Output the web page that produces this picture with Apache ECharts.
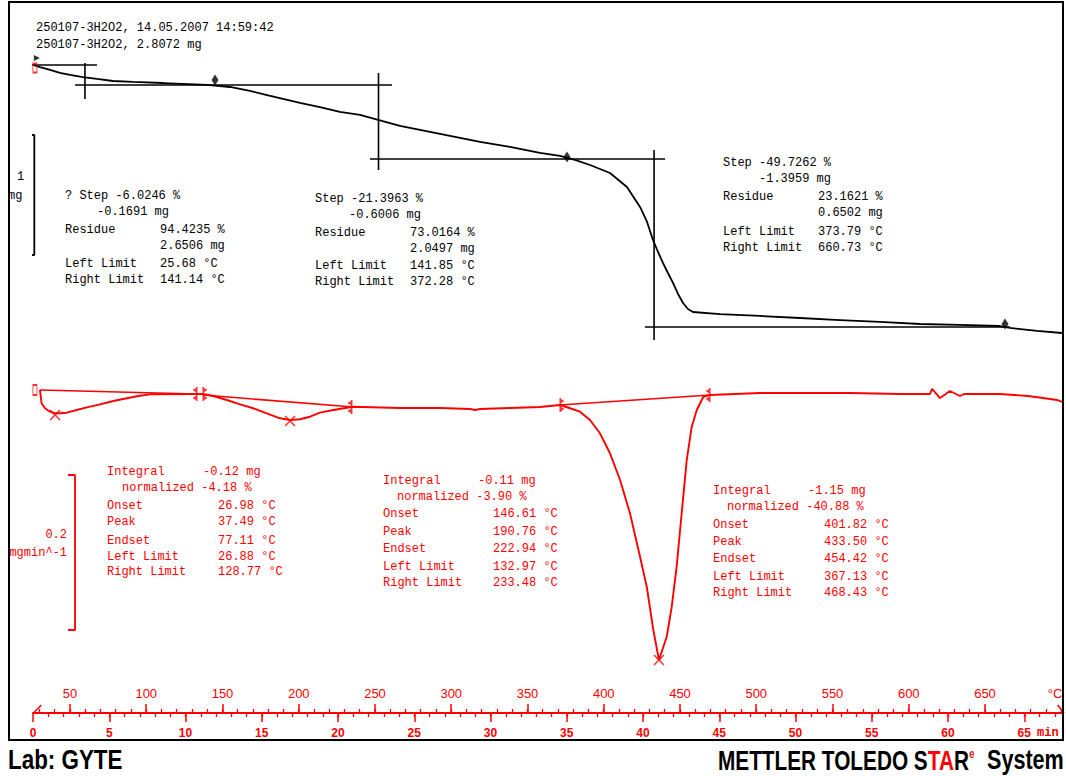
<!DOCTYPE html>
<html><head><meta charset="utf-8">
<script src="https://cdn.jsdelivr.net/npm/echarts@6/dist/echarts.min.js"></script>
<style>html,body{margin:0;padding:0;background:#fff;}#c{width:1066px;height:776px;}</style>
</head><body><div id="c"></div>
<script>
// ================= DATA =================
// TGA curve: temperature (°C) vs mass (mg)
const tgaTemp = [26.4,30.3,36.9,43.4,50.0,58.5,67.7,78.2,91.3,111.0,139.8,154.9,168.0,179.2,189.7,200.8,213.9,227.0,240.2,252.0,266.4,279.5,299.2,318.9,338.5,358.2,371.3,381.1,391.0,404.1,415.2,423.8,428.4,432.3,435.6,438.9,442.1,445.4,448.7,452.0,455.2,458.5,476.2,502.5,528.7,554.9,581.1,607.4,633.6,659.8,666.4,684.1,700.5];
const tgaMass = [2.807,2.790,2.766,2.741,2.724,2.707,2.691,2.674,2.666,2.657,2.641,2.624,2.591,2.557,2.524,2.491,2.457,2.416,2.391,2.349,2.299,2.266,2.216,2.166,2.124,2.074,2.049,2.016,1.974,1.907,1.791,1.624,1.499,1.349,1.249,1.157,1.074,0.991,0.899,0.824,0.774,0.749,0.732,0.716,0.699,0.682,0.666,0.649,0.641,0.632,0.616,0.591,0.574];
// DTG curve: temperature (°C) vs rate (mg/min)
const dtgTemp = [30.3,31.4,33.6,36.9,40.2,43.4,47.8,54.4,61.0,69.7,78.4,87.2,94.8,102.5,133.1,137.4,144.0,152.8,161.5,170.2,179.0,187.7,194.3,200.8,207.4,213.9,222.7,231.4,235.8,266.4,292.6,312.3,315.6,318.9,338.5,358.2,371.3,377.9,384.4,391.0,397.5,404.1,410.7,417.2,423.8,428.2,432.5,436.2,441.3,444.6,447.8,451.1,454.4,457.7,461.0,465.3,469.7,502.5,561.5,594.3,613.9,615.3,620.5,627.0,633.6,636.2,659.8,678.2,688.0,697.2,700.5];
const dtgRate = [0.0039,-0.0133,-0.0197,-0.0241,-0.0262,-0.0262,-0.0254,-0.0219,-0.0185,-0.0146,-0.0103,-0.0068,-0.0039,-0.0017,-0.0013,-0.0013,-0.0039,-0.0090,-0.0146,-0.0197,-0.0262,-0.0326,-0.0348,-0.0339,-0.0306,-0.0254,-0.0219,-0.0190,-0.0177,-0.0194,-0.0194,-0.0206,-0.0219,-0.0206,-0.0194,-0.0181,-0.0155,-0.0197,-0.0241,-0.0348,-0.0520,-0.0778,-0.1123,-0.1552,-0.2112,-0.2499,-0.3058,-0.3445,-0.3145,-0.2757,-0.2241,-0.1552,-0.0865,-0.0435,-0.0219,-0.0048,-0.0026,0.0000,0.0000,-0.0013,-0.0013,0.0052,-0.0065,0.0026,-0.0039,-0.0013,-0.0013,-0.0039,-0.0065,-0.0090,-0.0116];
// TGA step evaluation lines (tangents and limits) [temp, mass]
const tgaEvalLines = [
  [[21.8,2.807],[67.7,2.807]],
  [[59.8,2.824],[59.8,2.524]],
  [[53.3,2.641],[261.1,2.641]],
  [[252.3,2.741],[252.3,1.932]],
  [[246.7,2.024],[440.2,2.024]],
  [[433.0,2.099],[433.0,0.516]],
  [[427.0,0.624],[666.4,0.624]]
];
// TGA limit markers
const tgaMarkTemp = [145.1,375.9,663.1];
const tgaMarkMass = [2.682,2.040,0.649];
// DTG integration baselines [temp, rate]
const dtgBaselines = [
  [[30.3,0.0039],[133.1,-0.0013]],
  [[137.4,-0.0026],[235.8,-0.0181]],
  [[371.3,-0.0155],[469.7,-0.0026]]
];
// DTG peaks (×)
const dtgPeakTemp = [40.2,194.3,436.2];
const dtgPeakRate = [-0.0284,-0.0361,-0.3445];
// DTG limit markers
const dtgLeftLimTemp = [137.2,371.3];
const dtgLeftLimRate = [-0.0013,-0.0155];
const dtgRightLimTemp = [133.3,234.9,469.7];
const dtgRightLimRate = [-0.0013,-0.0181,-0.0026];
// scale bars: 1 mg and 0.2 mg/min
const massBar = [[21.8,2.224],[26.6,2.224],[26.6,1.224],[21.8,1.224]];
const rateBar = [[48.7,-0.1058],[53.3,-0.1058],[53.3,-0.3058],[48.7,-0.3058]];
// axis ticks
const tempTicks = [50,100,150,200,250,300,350,400,450,500,550,600,650];
const timeTicks = [0,5,10,15,20,25,30,35,40,45,50,55,60,65];
const tempMinor = []; for (let t = 30; t <= 700; t += 10) tempMinor.push(t);
const timeMinor = []; for (let m = 1; m <= 67; m += 1) timeMinor.push(m);

// texts
const headerLines = [[36,28,'250107-3H2O2, 14.05.2007 14:59:42'],[36,45,'250107-3H2O2, 2.8072 mg']];
const blackBlocks = [
  [65,196,'? Step -6.0246 %'],[97,212,'-0.1691 mg'],[65,230,'Residue'],[160,230,'94.4235 %'],[160,246,'2.6506 mg'],[65,264,'Left Limit'],[160,264,'25.68 °C'],[65,280,'Right Limit'],[160,280,'141.14 °C'],
  [315,199,'Step -21.3963 %'],[349,215,'-0.6006 mg'],[315,233,'Residue'],[410,233,'73.0164 %'],[410,249,'2.0497 mg'],[315,266,'Left Limit'],[410,266,'141.85 °C'],[315,282,'Right Limit'],[410,282,'372.28 °C'],
  [723,163,'Step -49.7262 %'],[759,179,'-1.3959 mg'],[723,197,'Residue'],[818,197,'23.1621 %'],[818,213,'0.6502 mg'],[723,232,'Left Limit'],[818,232,'373.79 °C'],[723,248,'Right Limit'],[818,248,'660.73 °C'],
  [17,177,'1'],[8,196,'mg']
];
const redBlocks = [
  [107,472,'Integral'],[203,472,'-0.12 mg'],[122,488,'normalized -4.18 %'],[107,506,'Onset'],[218,506,'26.98 °C'],[107,522,'Peak'],[218,522,'37.49 °C'],[107,541,'Endset'],[218,541,'77.11 °C'],[107,557,'Left Limit'],[218,557,'26.88 °C'],[107,572,'Right Limit'],[218,572,'128.77 °C'],
  [383,481,'Integral'],[478,481,'-0.11 mg'],[397,497,'normalized -3.90 %'],[383,514,'Onset'],[493,514,'146.61 °C'],[383,532,'Peak'],[493,532,'190.76 °C'],[383,549,'Endset'],[493,549,'222.94 °C'],[383,567,'Left Limit'],[493,567,'132.97 °C'],[383,583,'Right Limit'],[493,583,'233.48 °C'],
  [713,491,'Integral'],[808,491,'-1.15 mg'],[727,507,'normalized -40.88 %'],[713,525,'Onset'],[824,525,'401.82 °C'],[713,542,'Peak'],[824,542,'433.50 °C'],[713,559,'Endset'],[824,559,'454.42 °C'],[713,577,'Left Limit'],[824,577,'367.13 °C'],[713,593,'Right Limit'],[824,593,'468.43 °C']
];
const redRightTexts = [[67,535,'0.2'],[67,553,'mgmin^-1']];

// ================= CHART =================
const RED = '#ff0000';
const MONO = '12px "Liberation Mono", "DejaVu Sans Mono", monospace';
const SANS = '"Liberation Sans", Arial, sans-serif';
const chart = echarts.init(document.getElementById('c'), null, {renderer: 'svg'});

function txt(x, y, s, color, font, align) {
  return {type: 'text', x: x, y: y, silent: true, z: 50,
    style: {text: s, fill: color, font: font || MONO, textAlign: align || 'left', align: align || 'left',
            textVerticalAlign: 'middle', verticalAlign: 'middle'}};
}
const graphics = [];
headerLines.forEach(r => graphics.push(txt(r[0], r[1], r[2], '#000')));
blackBlocks.forEach(r => graphics.push(txt(r[0], r[1], r[2], '#000')));
redBlocks.forEach(r => graphics.push(txt(r[0], r[1], r[2], RED)));
redRightTexts.forEach(r => graphics.push(txt(r[0], r[1], r[2], RED, MONO, 'right')));
graphics.push({type: 'text', x: 8, y: 760, scaleX: 0.83, silent: true,
  style: {text: 'Lab: GYTE', fill: '#000', font: 'bold 27px ' + SANS, textVerticalAlign: 'middle', verticalAlign: 'middle'}});
graphics.push({type: 'text', x: 718, y: 760, scaleX: 0.77, silent: true,
  style: {text: '{k|METTLER TOLEDO S}{r|TA}{k|R}{s|e}', textVerticalAlign: 'middle', verticalAlign: 'middle',
    rich: {k: {fill: '#000', font: 'bold 27px ' + SANS},
           r: {fill: RED, font: 'bold 27px ' + SANS},
           s: {fill: '#e03020', font: 'bold 13px ' + SANS, verticalAlign: 'top'}}}});
graphics.push({type: 'text', x: 987, y: 760, scaleX: 0.8, silent: true,
  style: {text: 'System', fill: '#000', font: 'bold 27px ' + SANS, textVerticalAlign: 'middle', verticalAlign: 'middle'}});
graphics.push({type: 'rect', z: 100, silent: true, shape: {x: 9, y: 2, width: 1054, height: 738},
  style: {fill: 'none', stroke: '#000', lineWidth: 2}});

const tMin = 25.74, tMax = 701.15, timeMax = 67.54;
const hidden = {show: false};
const xAxes = [
  {type: 'value', min: tMin, max: tMax, position: 'bottom', splitLine: hidden,
   axisLine: {show: true, onZero: false, lineStyle: {color: RED, width: 2}},
   axisTick: {show: true, inside: true, length: 9, customValues: tempTicks, lineStyle: {color: RED, width: 1.5}},
   axisLabel: {show: true, inside: true, margin: 13, customValues: tempTicks.concat([695.9]), color: RED,
     fontFamily: SANS, fontSize: 13,
     formatter: v => v > 690 ? '°C' : String(v)}},
  {type: 'value', min: tMin, max: tMax, position: 'bottom', splitLine: hidden,
   axisLine: {show: false, onZero: false},
   axisTick: {show: true, inside: true, length: 4, customValues: tempMinor, lineStyle: {color: RED, width: 1.3}},
   axisLabel: hidden},
  {type: 'value', min: 0, max: timeMax, position: 'bottom', splitLine: hidden,
   axisLine: {show: false, onZero: false},
   axisTick: {show: true, inside: false, length: 9, customValues: timeTicks, lineStyle: {color: RED, width: 1.5}},
   axisLabel: {show: true, margin: 14, customValues: timeTicks.concat([66.55]), color: RED,
     fontFamily: SANS, fontSize: 12, fontWeight: 'bold',
     formatter: v => v > 66 ? '{m|min}' : String(v),
     rich: {m: {fontFamily: '"Liberation Mono", monospace', fontSize: 12, fontWeight: 'bold', color: RED}}}},
  {type: 'value', min: 0, max: timeMax, position: 'bottom', splitLine: hidden,
   axisLine: {show: false, onZero: false},
   axisTick: {show: true, inside: false, length: 4, customValues: timeMinor, lineStyle: {color: RED, width: 1.3}},
   axisLabel: hidden}
];
const yAxes = [
  {type: 'value', min: -2.5928, max: 3.29887, show: false, splitLine: hidden},
  {type: 'value', min: -0.412903, max: 0.499355, show: false, splitLine: hidden}
];

const series = [];
const zip = (a, b) => a.map((v, i) => [v, b[i]]);
function lineS(data, yi, color, width, z) {
  return {type: 'line', xAxisIndex: 0, yAxisIndex: yi, data: data, symbol: 'none', showSymbol: false,
          clip: false, silent: true, z: z || 2, lineStyle: {color: color, width: width}};
}
series.push(lineS(zip(tgaTemp, tgaMass), 0, '#000', 1.8, 3));
tgaEvalLines.forEach(seg => series.push(lineS(seg, 0, '#000', 1.6)));
series.push(lineS(massBar, 0, '#000', 1.8));
series.push(lineS(zip(dtgTemp, dtgRate), 1, RED, 1.9, 3));
dtgBaselines.forEach(seg => series.push(lineS(seg, 1, RED, 1.6)));
series.push(lineS(rateBar, 1, RED, 1.8));
// axis end slashes
series.push(lineS([[26.0, -0.4129], [31.2, -0.4026]], 1, RED, 1.5));
series.push(lineS([[697.6, -0.4026], [701.8, -0.4129]], 1, RED, 1.5));

const X_SYM = 'path://M0,1 L1,0 L5,4 L9,0 L10,1 L6,5 L10,9 L9,10 L5,6 L1,10 L0,9 L4,5 Z';
const LEFT_SYM = 'path://M0,0 L1.5,0 L1.5,16 L0,16 Z M1.5,1 L5,3.5 L1.5,6 Z M1.5,10 L5,12.5 L1.5,15 Z';
const RIGHT_SYM = 'path://M3.5,0 L5,0 L5,16 L3.5,16 Z M3.5,1 L0,3.5 L3.5,6 Z M3.5,10 L0,12.5 L3.5,15 Z';
function scat(data, yi, sym, size, itemStyle, extra) {
  return Object.assign({type: 'scatter', xAxisIndex: 0, yAxisIndex: yi, data: data, symbol: sym, symbolSize: size,
    clip: false, silent: true, z: 5, itemStyle: itemStyle}, extra || {});
}
series.push(scat(zip(dtgPeakTemp, dtgPeakRate), 1, X_SYM, 11, {color: RED}));
series.push(scat(zip(dtgLeftLimTemp, dtgLeftLimRate), 1, LEFT_SYM, [5, 14], {color: RED}, {symbolOffset: [2, 0]}));
series.push(scat(zip(dtgRightLimTemp, dtgRightLimRate), 1, RIGHT_SYM, [5, 14], {color: RED}, {symbolOffset: [-2, 0]}));
series.push(scat([[27.0, 0.0039]], 1, 'rect', [4, 10], {color: 'rgba(0,0,0,0)', borderColor: RED, borderWidth: 1.3}));
series.push(scat(zip(tgaMarkTemp, tgaMarkMass), 0, 'diamond', [7, 11], {color: '#000'}));
series.push(scat([[27.0, 2.782]], 0, 'rect', [4, 9], {color: 'rgba(0,0,0,0)', borderColor: RED, borderWidth: 1.3}));
series.push(scat([[28.3, 2.866]], 0, 'triangle', 6, {color: '#000'}, {symbolRotate: -90}));

chart.setOption({
  animation: false,
  backgroundColor: '#fff',
  grid: {left: 33, right: 3, top: 6, bottom: 63, containLabel: false, outerBoundsMode: 'none'},
  xAxis: xAxes,
  yAxis: yAxes,
  series: series,
  graphic: {elements: graphics}
});
</script>
</body></html>
